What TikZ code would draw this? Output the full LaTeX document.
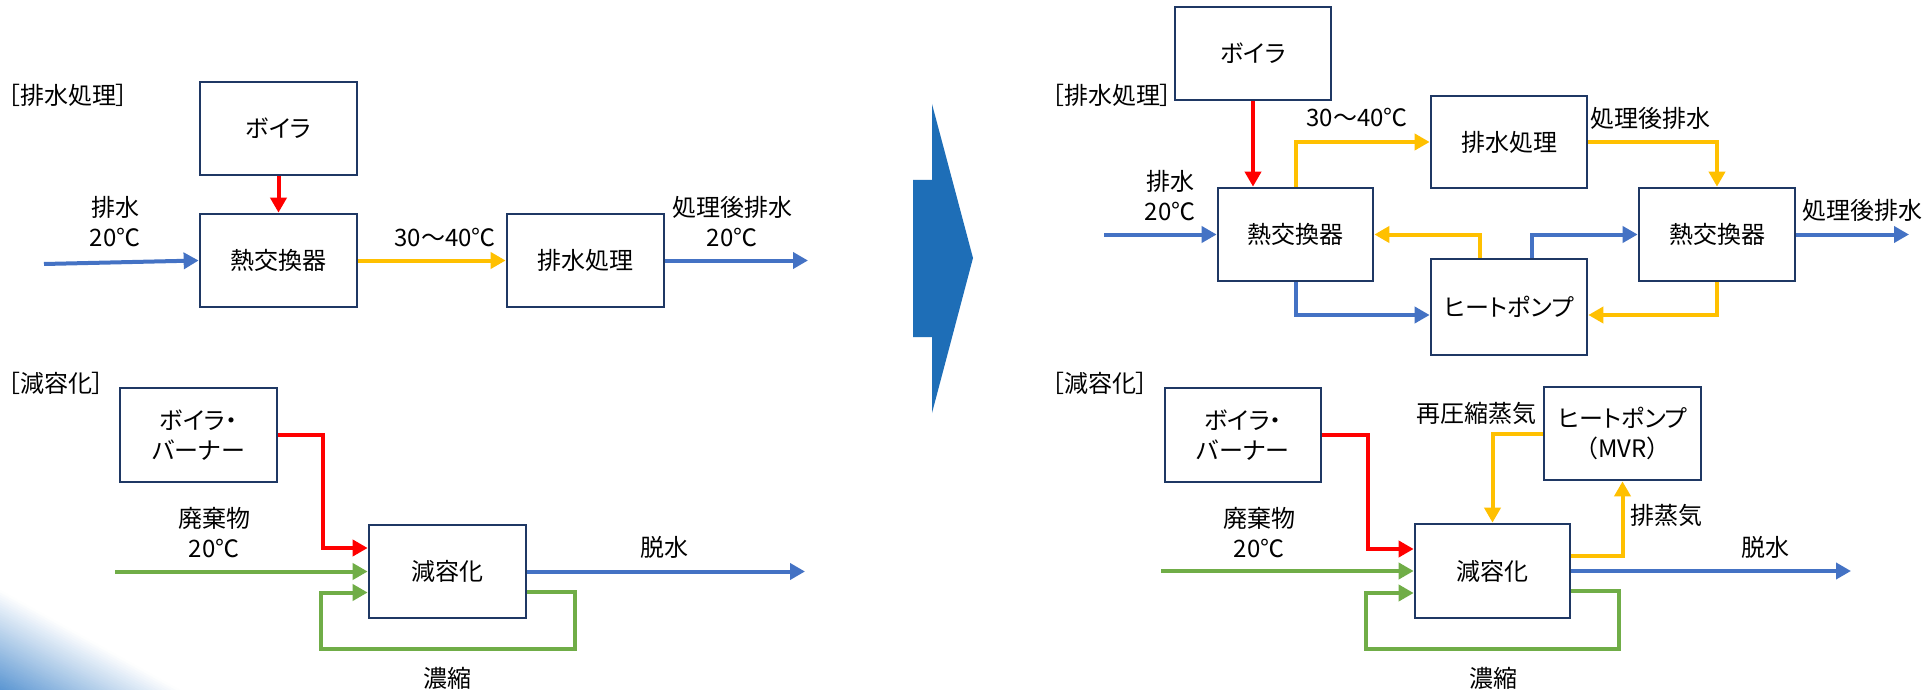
\documentclass[tikz,border=0pt]{standalone}
\usepackage{fontspec}
\setmainfont{Noto Sans CJK JP}
\newfontfamily\kana{Noto Sans CJK JP}[RawFeature=+palt]
\usetikzlibrary{arrows.meta,calc}
\definecolor{boxc}{HTML}{1F3864}
\definecolor{cblue}{HTML}{4472C4}
\definecolor{cred}{HTML}{FF0000}
\definecolor{cyel}{HTML}{FFC000}
\definecolor{cgreen}{HTML}{70AD47}
\definecolor{bigarrow}{HTML}{1E6EB7}
\definecolor{gradc}{HTML}{5B96D2}
\tikzset{
  box/.style={draw=boxc, line width=1.35pt, fill=white, minimum width=78.5pt, minimum height=46.5pt, inner sep=0pt, align=center},
  conn/.style={line width=2pt, -{Triangle[length=7.5pt,width=8pt]}},
  bl/.style={conn, draw=cblue},
  rd/.style={conn, draw=cred},
  yl/.style={conn, draw=cyel},
  gr/.style={conn, draw=cgreen},
  lbl/.style={align=center, inner sep=0pt}
}
\begin{document}
\begin{tikzpicture}[x=0.5pt,y=-0.5pt,font=\fontsize{12}{15}\selectfont]
\useasboundingbox (0,0) rectangle (1924,690);
\fill[white] (0,0) rectangle (1924,690);
% corner gradient (strips parallel to the diagonal)
\foreach \i in {0,...,39}{
  \pgfmathsetmacro{\ta}{\i/40}
  \pgfmathsetmacro{\tb}{(\i+1.2)/40}
  \pgfmathsetmacro{\pc}{100*(\i+0.5)/40}
  \fill[gradc!\pc!white] (0,{590+100*\ta}) -- ({180*(1-\ta)},690) -- ({max(0,180*(1-\tb))},690) -- (0,{min(690,590+100*\tb)}) -- cycle;
}
% big arrow
\fill[bigarrow] (913,180) -- (932,180) -- (932,104) -- (973,258) -- (932,413) -- (932,337) -- (913,337) -- cycle;

% ===== left top =====
\node[lbl, anchor=west] (tA) at (8,95) {{\kana ［排水処理］}};
\node[box] (boilerA) at (278.5,128.5) {{\kana ボイラ}};
\node[box] (hxA) at (278.5,260.5) {熱交換器};
\node[box] (wtA) at (585.5,260.5) {排水処理};
\coordinate (inA) at (44,264);
\coordinate (outA) at (808,260.5);
\draw[bl] (inA) -- (hxA.west);
\draw[rd] (boilerA.south) -- (hxA.north);
\draw[yl] (hxA.east) -- (wtA.west);
\draw[bl] (wtA.east) -- (outA);
\node[lbl] (l1) at (115,222) {排水\\20℃};
\node[lbl] (l2) at (445,237) {30〜40℃};
\node[lbl] (l3) at (732,222) {処理後排水\\20℃};

% ===== left bottom =====
\node[lbl, anchor=west] (tB) at (8,383) {{\kana ［減容化］}};
\node[box, minimum height=47pt] (bbA) at (198.5,435) {{\kana ボイラ・}\\{\kana バーナー}};
\node[box] (vrA) at (447.5,571.5) {減容化};
\coordinate (inA2) at (115,571.5);
\coordinate (outA2) at (805,571.5);
\draw[rd] (bbA.east) -- ++(45,0) |- ($(vrA.west)+(0,-23.5)$);
\draw[gr] (inA2) -- (vrA.west);
\draw[gr] ($(vrA.east)+(0,20)$) -- ++(48,0) |- ($(vrA.west)+(-47,77.5)$) |- ($(vrA.west)+(0,21)$);
\draw[bl] (vrA.east) -- (outA2);
\node[lbl] (l4) at (214,532.5) {廃棄物\\20℃};
\node[lbl] (l5) at (664,547) {脱水};
\node[lbl] (l6) at (447,678) {濃縮};

% ===== right top =====
\node[lbl, anchor=west] (tC) at (1052,95) {{\kana ［排水処理］}};
\node[box, minimum width=78pt] (boilerB) at (1253,53.5) {{\kana ボイラ}};
\node[box, minimum width=77.5pt] (hxB1) at (1295.5,234.5) {熱交換器};
\node[box, minimum width=78pt, minimum height=46pt] (wtB) at (1509,142) {排水処理};
\node[box, minimum width=78pt] (hxB2) at (1717,234.5) {熱交換器};
\node[box, minimum width=78pt, minimum height=48pt] (hpB) at (1509,307) {{\kana ヒートポンプ}};
\coordinate (inB) at (1104,234.5);
\coordinate (outB) at (1909,234.5);
\draw[bl] (inB) -- (hxB1.west);
\draw[rd] (boilerB.south) -- (boilerB.south |- hxB1.north);
\draw[yl] (hxB1.north) |- (wtB.west);
\draw[yl] (wtB.east) -| (hxB2.north);
\draw[yl] ($(hpB.north)+(-29,0)$) |- (hxB1.east);
\draw[bl] ($(hpB.north)+(23,0)$) |- (hxB2.west);
\draw[bl] (hxB2.east) -- (outB);
\draw[bl] (hxB1.south) |- ($(hpB.west)+(0,8)$);
\draw[yl] (hxB2.south) |- ($(hpB.east)+(0,8)$);
\node[lbl] (l7) at (1170,196) {排水\\20℃};
\node[lbl] (l8) at (1357,118) {30〜40℃};
\node[lbl] (l9) at (1650,118) {処理後排水};
\node[lbl] (l10) at (1862,210) {処理後排水};

% ===== right bottom =====
\node[lbl, anchor=west] (tD) at (1052,383) {{\kana ［減容化］}};
\node[box, minimum width=78pt, minimum height=47pt] (bbB) at (1243,435) {{\kana ボイラ・}\\{\kana バーナー}};
\node[box] (mvrB) at (1622.5,433.5) {{\kana ヒートポンプ}\\（MVR）};
\node[box, minimum width=77.5pt, minimum height=47pt] (vrB) at (1492.5,571) {減容化};
\coordinate (inB2) at (1161,571);
\coordinate (outB2) at (1851,571);
\draw[rd] (bbB.east) -- ++(46,0) |- ($(vrB.west)+(0,-22)$);
\draw[gr] (inB2) -- (vrB.west);
\draw[gr] ($(vrB.east)+(0,20)$) -- ++(48,0) |- ($(vrB.west)+(-48,78)$) |- ($(vrB.west)+(0,22)$);
\draw[bl] (vrB.east) -- (outB2);
\draw[yl] (mvrB.west) -| (vrB.north);
\draw[yl] ($(vrB.east)+(0,-15)$) -| (mvrB.south);
\node[lbl] (l11) at (1476,413) {再圧縮蒸気};
\node[lbl] (l12) at (1666,515) {排蒸気};
\node[lbl] (l13) at (1259,533) {廃棄物\\20℃};
\node[lbl] (l14) at (1765,547) {脱水};
\node[lbl] (l15) at (1493,678) {濃縮};
\end{tikzpicture}
\end{document}
